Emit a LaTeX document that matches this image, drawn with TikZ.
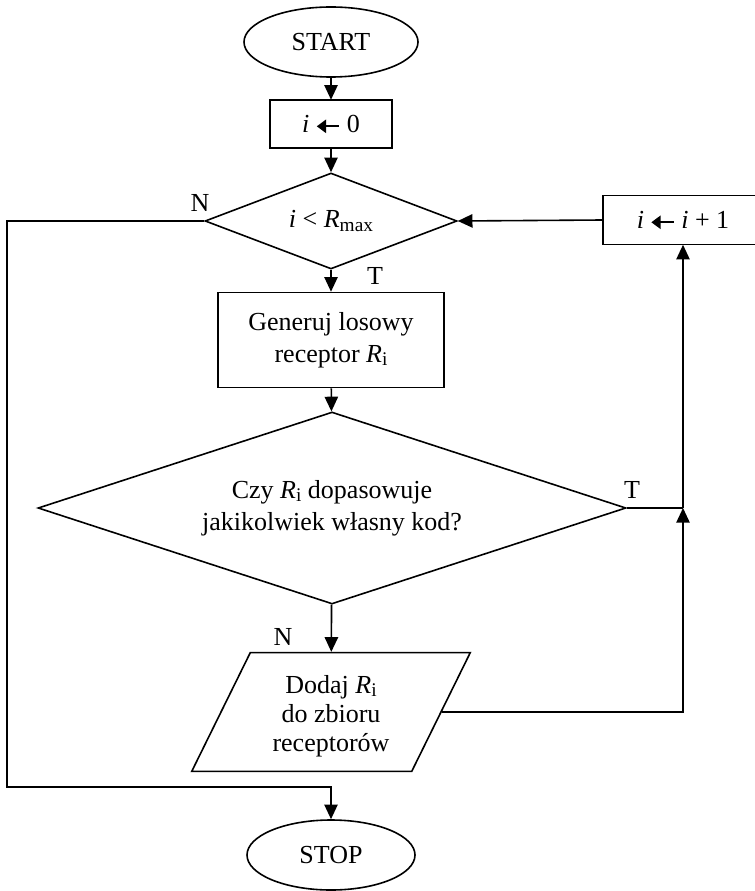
\documentclass[tikz,border=0pt]{standalone}
\usepackage{fontspec}
\setmainfont{Liberation Serif}
\usetikzlibrary{shapes.geometric,arrows.meta}
\newcommand\lowsub[1]{\raisebox{-0.3ex}{\fontsize{14.5}{15}\selectfont #1}}
\newcommand\larr{\tikz[baseline={(0pt,-4.5pt)}, x=1pt, y=1pt]\draw[line width=1.3pt, {Triangle[length=7pt,width=10pt]}-] (0,0) -- (17,0);}
\begin{document}
\begin{tikzpicture}[x=0.75pt,y=-0.75pt, line width=1.2pt,
  every node/.style={font=\fontsize{19.5}{24}\selectfont},
  term/.style={draw, ellipse, inner sep=0pt},
  proc/.style={draw, rectangle, inner sep=0pt, align=center},
  dec/.style={draw, diamond, inner sep=0pt, align=center},
  io/.style={draw, trapezium, trapezium left angle=65, trapezium right angle=115,
             trapezium stretches=true, inner sep=0pt, align=center,
             font=\fontsize{19.5}{22}\selectfont},
  flow/.style={-{Triangle[length=11pt,width=10pt]}},
  lbl/.style={inner sep=0pt}]
\path[use as bounding box] (0,0) rectangle (755,891);
\node[term, minimum width=130.5pt, minimum height=52.5pt] (start) at (331,42) {START};
\node[proc, minimum width=91.5pt, minimum height=36pt] (init) at (331,124) {\textit{i} \larr{} 0};
\node[dec, minimum width=189pt, minimum height=72pt, aspect=2.6] (cond) at (331,221) {\textit{i} < \textit{R}\lowsub{max}};
\node[proc, minimum width=120pt, minimum height=36.75pt] (inc) at (683,220) {\textit{i} \larr{} \textit{i} + 1};
\node[proc, minimum width=169.5pt, minimum height=71.25pt] (gen) at (331,340) {Generuj losowy\\receptor \textit{R}\lowsub{i}};
\node[dec, minimum width=441pt, minimum height=144pt, aspect=3] (match) at (332,508) {Czy \textit{R}\lowsub{i} dopasowuje\\jakikolwiek własny kod?};
\node[io, minimum width=209pt, minimum height=89pt] (add) at (331,712) {\rule{0pt}{20pt}Dodaj \textit{R}\lowsub{i}\\do zbioru\\receptorów};
\node[term, minimum width=126pt, minimum height=52.5pt] (stop) at (331,855) {STOP};
\node[lbl] (n1) at (200,203) {N};
\node[lbl] (t1) at (375,276) {T};
\node[lbl] (t2) at (632,490) {T};
\node[lbl] (n2) at (283,637) {N};
\coordinate (lc) at (7,221);
\coordinate (lb) at (7,787);
\coordinate (rj) at (inc.south |- match.east);
\coordinate (ar) at (inc.south |- add.east);
\draw[flow] (start) -- (init);
\draw[flow] (init) -- (cond);
\draw[flow] (cond) -- (gen);
\draw[flow] (gen) -- (match);
\draw[flow] (match) -- (add);
\draw (match.east) -- (rj);
\draw[flow] (rj) -- (inc.south);
\draw[flow] (add.east) -- (ar) -- (rj);
\draw[flow] (inc.west) -- (cond.east);
\draw[flow] (cond.west) -- (lc) -- (lb) -- (stop.north |- lb) -- (stop.north);
\end{tikzpicture}
\end{document}
